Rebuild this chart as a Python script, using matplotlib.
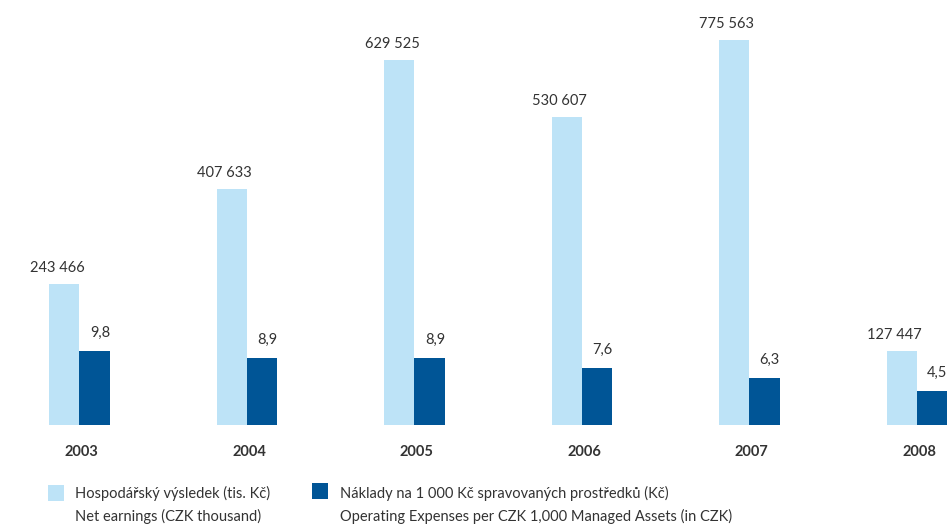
import numpy as np
import matplotlib
matplotlib.use('Agg')
import matplotlib.pyplot as plt
from matplotlib.patches import Rectangle
import matplotlib.transforms as mtransforms

years = ['2003', '2004', '2005', '2006', '2007', '2008']
earnings = [243466, 407633, 629525, 530607, 775563, 127447]
earn_labels = ['243 466', '407 633', '629 525', '530 607', '775 563', '127 447']
costs = [9.8, 8.9, 8.9, 7.6, 6.3, 4.5]
cost_labels = ['9,8', '8,9', '8,9', '7,6', '6,3', '4,5']

light = '#bde3f7'
dark = '#005596'
txt = '#333333'

plt.rcParams['font.family'] = ['Lato', 'DejaVu Sans']

fig = plt.figure(figsize=(9.52, 5.26), dpi=100)
ax = fig.add_axes([0, 0.1911, 1, 0.7329])
ax2 = ax.twinx()

x = np.arange(len(years))
w = 0.182
top1 = 664000
top2 = 50.7

ax.bar(x - w / 2, earnings, w, color=light, linewidth=0)
ax2.bar(x + w / 2, costs, w, color=dark, linewidth=0)
ax.set_ylim(0, top1)
ax2.set_ylim(0, top2)
ax.set_xlim(-0.4746, 5.209)

for i in range(len(years)):
    ax.annotate(earn_labels[i], xy=(x[i], min(earnings[i], top1)), xytext=(5, 12),
                textcoords='offset pixels', ha='right', va='baseline',
                fontsize=10.5, color=txt, annotation_clip=False)
    ax2.annotate(cost_labels[i], xy=(x[i] + w, costs[i]), xytext=(0, 14),
                 textcoords='offset pixels', ha='right', va='baseline',
                 fontsize=10.5, color=txt, annotation_clip=False)
    ax.annotate(years[i], xy=(x[i], 0), xycoords=('data', 'axes fraction'),
                xytext=(2, -31), textcoords='offset pixels', ha='center',
                va='baseline', fontsize=10.5, fontweight='bold', color=txt,
                annotation_clip=False)

for a in (ax, ax2):
    a.axis('off')

# legend
W, H = 952.0, 526.0
fig.add_artist(Rectangle((48 / W, (H - 501) / H), 16 / W, 16 / H,
                         transform=fig.transFigure, color=light, lw=0))
fig.add_artist(Rectangle((312 / W, (H - 499) / H), 16 / W, 16 / H,
                         transform=fig.transFigure, color=dark, lw=0))
fig.text(75 / W, (H - 498) / H, 'Hospodářský výsledek (tis. Kč)', fontsize=10.5,
         color=txt, va='baseline')
fig.text(75 / W, (H - 521) / H, 'Net earnings (CZK thousand)', fontsize=10.5,
         color=txt, va='baseline')
fig.text(340 / W, (H - 498) / H, 'Náklady na 1 000 Kč spravovaných prostředků (Kč)',
         fontsize=10.5, color=txt, va='baseline')
fig.text(340 / W, (H - 521) / H, 'Operating Expenses per CZK 1,000 Managed Assets (in CZK)',
         fontsize=10.5, color=txt, va='baseline')

fig.savefig('out.png', dpi=100)
